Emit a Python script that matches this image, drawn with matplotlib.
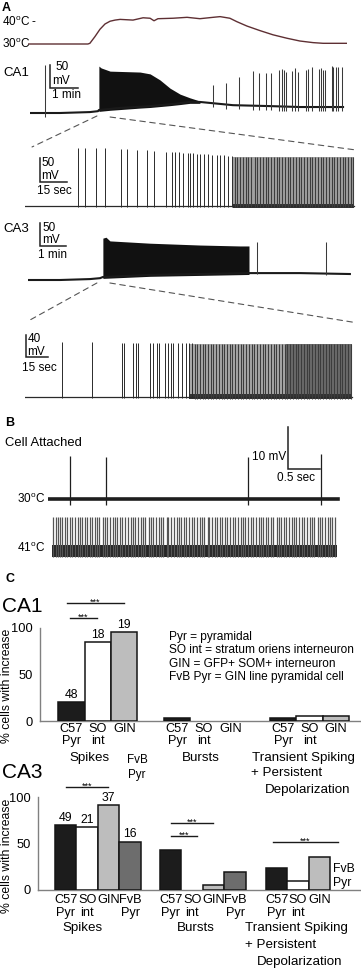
import numpy as np
import matplotlib
matplotlib.use('Agg')
import matplotlib.pyplot as plt
from matplotlib.patches import ConnectionPatch

plt.rcParams['font.family'] = ['Liberation Sans', 'DejaVu Sans']
plt.rcParams['mathtext.fontset'] = 'custom'
plt.rcParams['mathtext.rm'] = 'Liberation Sans'

W, H = 361, 969
DEG = '$^\\mathrm{o}$'

# ---- panel A: bath temperature (min, degC)
TEMP_T = [0.00, 2.14, 2.21, 2.39, 2.57, 2.75, 2.93, 3.11, 3.29, 3.75, 4.11, 4.36, 4.50, 4.64, 5.18,
          5.68, 6.14, 6.61, 6.86, 7.21, 7.46, 7.82, 8.29, 8.75, 9.25, 9.71, 10.18, 10.54, 11.39]
TEMP_C = [30.0, 30.0, 30.3, 33.2, 36.4, 38.7, 39.9, 40.4, 40.7, 40.4, 41.4, 41.2, 40.1, 41.0, 41.2,
          41.6, 41.0, 41.6, 41.9, 41.2, 39.7, 37.8, 35.8, 34.0, 32.5, 31.3, 30.6, 30.3, 30.3]

# ---- CA1 whole-cell trace (min, mV relative to rest)
CA1_BASE_T = [0, 1.07, 2.14, 2.43, 2.46, 3.21, 4.29, 5.18, 5.71, 6.07, 7.25, 8.57, 9.64, 11.18]
CA1_BASE_V = [0, 0, 2, 4, 6.5, 11, 15, 20, 24, 24, 17, 15, 13, 13]
CA1_BLOCK_T = [2.46, 2.54, 2.86, 3.93, 4.29, 4.64, 5.0, 5.36, 5.71, 6.07]
CA1_BLOCK_TOP = [102, 98, 91, 89, 85, 72, 54, 41, 33, 26]
CA1_SPIKE_T = [0.54, 6.54, 7.0, 7.46, 7.96, 8.18, 8.43, 8.61, 8.89, 9.0, 9.07, 9.14, 9.36, 9.46,
               9.57, 9.86, 9.93, 10.07, 10.32, 10.39, 10.46, 10.54, 10.79, 10.82, 10.93, 11.0, 11.14]
CA1_SPIKE_V = [104, 61, 65, 78, 91, 87, 87, 87, 93, 96, 93, 89, 91, 98,
               89, 93, 96, 100, 96, 98, 93, 93, 102, 100, 100, 100, 100]

# CA1 expanded (sec, mV)
CA1X_SPARSE_T = [29.4, 33.3, 39.4, 44.4, 53.3, 56.7, 62.2, 67.8, 71.7, 78.3, 81.7, 83.3, 85.6, 87.8,
                 90.6, 91.7, 93.3, 95.6, 97.2, 99.4, 101.7, 103.9, 106.7, 108.3, 110.6, 112.8, 115.0]
CA1X_SPARSE_V = [121, 121, 121, 120, 119, 118, 117, 116, 114, 113, 113, 112, 112, 111,
                 111, 110, 110, 109, 109, 108, 108, 107, 107, 106, 106, 105, 105]
CA1X_DENSE_T = [116.7, 117.8, 119.4, 121.1, 122.8, 123.9, 125.6, 127.8, 128.9, 130.6, 132.2, 133.9,
                135.0, 136.7, 138.3, 140.0, 141.1, 142.8, 144.4, 146.1, 147.2, 148.9, 150.6, 152.2,
                153.3, 155.0, 156.7, 158.3, 159.4, 161.1, 162.8, 164.4, 165.6, 167.2, 168.9, 170.6,
                171.7, 173.3, 175.0, 176.7, 177.8, 179.4, 181.1, 182.2]
CA1X_DENSE_PEAK = 102
CA1X_END = 183

# ---- CA3 whole-cell trace (min, mV)
CA3_BASE_T = [0, 1.23, 2.38, 2.77, 2.88, 4.69, 6.62, 8.5, 10.46, 12.38]
CA3_BASE_V = [0, 0, 2, 4, 6.5, 11, 13, 15, 15, 13]
CA3_BLOCK_T = [2.88, 3.0, 3.15, 4.69, 6.62, 8.15, 8.5]
CA3_BLOCK_TOP = [91, 93, 85, 80, 76, 74, 74]
CA3_SPIKE_T = [8.81, 11.46]
CA3_SPIKE_V = [83, 83]

# CA3 expanded (sec, mV)
CA3X_SPARSE_T = [25.2, 45.7, 66.2, 67.5, 73.7, 75.7, 77.1, 85.3, 87.3, 90.0, 91.4, 95.5, 97.5,
                 99.6, 100.9, 104.3, 107.1, 109.8, 111.8, 113.9]
CA3X_SPARSE_V = [100, 100, 98, 98, 98, 98, 98, 98, 98, 98, 98, 98, 98, 98, 98, 98, 98, 98, 98, 98]
CA3X_DENSE_T = [115.9, 117.3, 119.4, 121.4, 122.8, 124.8, 126.9, 128.2, 130.3, 132.3, 134.4, 135.7,
                137.8, 139.8, 141.2, 143.2, 145.3, 147.3, 148.7, 150.7, 152.8, 154.8, 156.2, 158.2,
                160.3, 162.3, 163.7, 165.7, 167.8, 169.8, 171.2, 173.2, 175.3, 177.3, 178.7, 180.7,
                182.8, 184.8, 186.2, 188.2, 190.3, 192.3, 193.7, 195.7, 197.8, 199.8, 201.2, 203.2,
                205.3, 207.3, 208.7, 210.7, 212.8, 214.8, 216.2, 218.2, 220.3, 222.3]
CA3X_DENSE_PEAK = 97
CA3X_END = 223

# ---- panel B: cell attached (sec, mV)
B30_SPIKE_T = [0.34, 0.91, 3.125, 4.27]
B30_SPIKE_V = [10.2, 10.0, 10.0, 10.7]
B30_END = 4.53
B41_SPIKE_T = [0.02, 0.06, 0.09, 0.13, 0.16, 0.21, 0.24, 0.28, 0.31, 0.36, 0.40, 0.43, 0.47, 0.52,
               0.55, 0.59, 0.62, 0.67, 0.71, 0.74, 0.79, 0.83, 0.86, 0.90, 0.95, 0.98, 1.02, 1.07,
               1.10, 1.14, 1.18, 1.23, 1.26, 1.30, 1.34, 1.39, 1.42, 1.46, 1.51, 1.54, 1.58, 1.62,
               1.67, 1.70, 1.74, 1.79, 1.82, 1.86, 1.90, 1.95, 1.98, 2.02, 2.07, 2.10, 2.14, 2.19,
               2.22, 2.26, 2.31, 2.34, 2.38, 2.43, 2.46, 2.50, 2.55, 2.58, 2.62, 2.66, 2.71, 2.74,
               2.78, 2.83, 2.86, 2.90, 2.95, 2.98, 3.02, 3.06, 3.11, 3.14, 3.18, 3.23, 3.26, 3.30,
               3.35, 3.38, 3.42, 3.46, 3.51, 3.54, 3.58, 3.63, 3.66, 3.70, 3.75, 3.78, 3.82, 3.86,
               3.91, 3.94, 3.98, 4.03, 4.06, 4.10, 4.15, 4.18, 4.22, 4.26, 4.31, 4.34, 4.38, 4.42]
B41_PEAK = 8.0
B41_END = 4.45

# ---- panel C: % cells with increase
CA1_CELLS = ['C57 Pyr', 'SO int', 'GIN']
CA1_SPIKES = [20, 85, 96]
CA1_BURSTS = [3.5, 0, 0]
CA1_TRANS = [3.5, 5.5, 5.5]
CA1_N = [48, 18, 19]

CA3_CELLS = ['C57 Pyr', 'SO int', 'GIN', 'FvB Pyr']
CA3_SPIKES = [70, 68, 91, 52]
CA3_BURSTS = [43, 0, 5, 19]
CA3_TRANS = [24, 10, 35]
CA3_N = [49, 21, 37, 16]

COLORS = {'C57 Pyr': '#1c1c1c', 'SO int': 'white', 'GIN': '#bdbdbd', 'FvB Pyr': '#6d6d6d'}

fig = plt.figure(figsize=(W / 100, H / 100), dpi=100)


def T(x, y, s, size=8.5, ha='left', va='center', **kw):
    fig.text(x / W, 1 - y / H, s, fontsize=size, ha=ha, va=va, **kw)


def trace_ax(x0, x1, y0, y1, t_px, v_ref, y_ref, v_px):
    ax = fig.add_axes([x0 / W, 1 - y1 / H, (x1 - x0) / W, (y1 - y0) / H])
    ax.set_xlim(0, (x1 - x0) * t_px)
    ax.set_ylim(v_ref - (y1 - y_ref) * v_px, v_ref + (y_ref - y0) * v_px)
    ax.axis('off')
    return ax


def scalebar(ax, t, v, dt, dv):
    ax.plot([t, t, t + dt], [v + dv, v, v], color='#222', lw=1.1, clip_on=False,
            solid_joinstyle='miter')


def spikes(ax, ts, vs, base_t, base_v, under, color='#2a2a2a', lw=0.7):
    b = np.interp(ts, base_t, base_v)
    ax.vlines(ts, b - under, vs, color=color, lw=lw)


# ---------------- panel A ----------------
T(2, 8, 'A', size=9, weight='bold')
T(2, 22, '40' + DEG + 'C -', size=8.5)
T(2, 44, '30' + DEG + 'C', size=8.5)
ax_t = trace_ax(28, 347, 5, 50, 1 / 28, 30, 44, 1 / 2.3)
ax_t.plot(TEMP_T, TEMP_C, color='#5e2f33', lw=1.0)

T(3, 73, 'CA1', size=9.5)
ax1 = trace_ax(30, 345, 55, 120, 1 / 28, 0, 113, 50 / 23)
ax1.plot(CA1_BASE_T, CA1_BASE_V, color='#1a1a1a', lw=1.5)
ax1.fill_between(CA1_BLOCK_T, np.interp(CA1_BLOCK_T, CA1_BASE_T, CA1_BASE_V) - 3,
                 CA1_BLOCK_TOP, color='#111111', lw=0)
spikes(ax1, CA1_SPIKE_T, CA1_SPIKE_V, CA1_BASE_T, CA1_BASE_V, 9, color='#3a3a3a', lw=0.75)
scalebar(ax1, 0.714, 54.3, 1, 50)
T(55, 67, '50'); T(52, 81, 'mV'); T(52, 95, '1 min')

ax1x = trace_ax(25, 356, 140, 212, 15 / 27, 0, 206, 50 / 24)
ax1x.plot([0, CA1X_END], [0, 0], color='#2a2a2a', lw=0.9)
ax1x.fill_between([CA1X_DENSE_T[0] - 1, CA1X_END], -3, CA1X_DENSE_PEAK, color='#a0a0a0', lw=0)
ax1x.fill_between([CA1X_DENSE_T[0] - 1, CA1X_END], -4, 5, color='#333333', lw=0)
spikes(ax1x, CA1X_SPARSE_T, CA1X_SPARSE_V, [0, CA1X_END], [0, 0], 2)
spikes(ax1x, CA1X_DENSE_T, [CA1X_DENSE_PEAK] * len(CA1X_DENSE_T), [0, CA1X_END], [0, 0], 3,
       color='#3c3c3c', lw=0.8)
scalebar(ax1x, 8.3, 50, 15, 50)
T(41, 163, '50'); T(41, 176, 'mV'); T(37, 191, '15 sec')

T(3, 229, 'CA3', size=9.5)
ax3 = trace_ax(28, 352, 215, 287, 1 / 26, 0, 280, 50 / 23)
ax3.plot(CA3_BASE_T, CA3_BASE_V, color='#1a1a1a', lw=1.5)
ax3.fill_between(CA3_BLOCK_T, np.interp(CA3_BLOCK_T, CA3_BASE_T, CA3_BASE_V) - 3,
                 CA3_BLOCK_TOP, color='#111111', lw=0)
spikes(ax3, CA3_SPIKE_T, CA3_SPIKE_V, CA3_BASE_T, CA3_BASE_V, 3, color='#3a3a3a', lw=0.75)
scalebar(ax3, 0.46, 73.9, 1, 50)
T(42, 228, '50'); T(42, 240, 'mV'); T(38, 255, '1 min')

ax3x = trace_ax(25, 354, 330, 402, 15 / 22, 0, 397, 40 / 22)
ax3x.plot([0, CA3X_END], [0, 0], color='#2a2a2a', lw=0.9)
ax3x.fill_between([CA3X_SPARSE_T[-2], CA3X_END], -3, CA3X_DENSE_PEAK, color='#a8a8a8', lw=0)
ax3x.fill_between([178, CA3X_END], -3, CA3X_DENSE_PEAK, color='#6a6a6a', lw=0)
ax3x.fill_between([CA3X_SPARSE_T[-2], CA3X_END], -4, 5, color='#333333', lw=0)
spikes(ax3x, CA3X_SPARSE_T, CA3X_SPARSE_V, [0, CA3X_END], [0, 0], 2)
spikes(ax3x, CA3X_DENSE_T, [CA3X_DENSE_PEAK] * len(CA3X_DENSE_T), [0, CA3X_END], [0, 0], 3,
       color='#3c3c3c', lw=0.8)
scalebar(ax3x, 0.68, 72.7, 15, 40)
T(28, 339, '40'); T(27, 352, 'mV'); T(22, 368, '15 sec')

# zoom guides
dash = dict(color='#555555', lw=0.8, linestyle=(0, (5, 4)))
for (ta, va), (tb, vb) in [((2.39, -6.5), (3.9, 123)), ((2.86, -8.7), (183.3, 117))]:
    fig.add_artist(ConnectionPatch((ta, va), (tb, vb), coordsA=ax1.transData,
                                   coordsB=ax1x.transData, **dash))
for (ta, va), (tb, vb) in [((2.65, -6.5), (3.4, 140)), ((3.15, -6.5), (223.7, 136))]:
    fig.add_artist(ConnectionPatch((ta, va), (tb, vb), coordsA=ax3.transData,
                                   coordsB=ax3x.transData, **dash))

# ---------------- panel B ----------------
T(5, 423, 'B', size=9, weight='bold')
T(5, 443, 'Cell Attached', size=9.4)
axb = trace_ax(48, 340, 420, 510, 1 / 64, 0, 499, 10 / 42)
axb.plot([0, B30_END], [0, 0], color='#1e1e1e', lw=2.6)
spikes(axb, B30_SPIKE_T, B30_SPIKE_V, [0, B30_END], [0, 0], 1.5, color='#1e1e1e', lw=0.9)
scalebar(axb, 3.75, 7.14, 0.5, 10)
T(252, 457, '10 mV'); T(277, 478, '0.5 sec')
T(45, 499, '30' + DEG + 'C', ha='right')

axb2 = trace_ax(52, 340, 510, 562, 1 / 64, 0, 551, 10 / 42)
axb2.fill_between([0, B41_END], -1.4, 1.4, color='#262626', lw=0)
axb2.vlines(B41_SPIKE_T, -1.4, B41_PEAK, color='#555555', lw=0.9)
T(45, 548, '41' + DEG + 'C', ha='right')

# ---------------- panel C ----------------
T(5, 579, 'C', size=9, weight='bold')


def bar_panel(rect, xlim, group_x, groups, cells, n, sig, lab_y):
    ax = fig.add_axes([rect[0] / W, 1 - rect[3] / H, (rect[1] - rect[0]) / W, (rect[3] - rect[2]) / H])
    for gx, vals in zip(group_x, groups):
        for i, v in enumerate(vals):
            if v > 0:
                ax.bar(gx + i + 0.5, v, width=1, color=COLORS[cells[i]], edgecolor='#151515', lw=1.1,
                       zorder=3)
            top, bot = (cells[i].split(' ') + [''])[:2]
            ax.text(gx + i + 0.5, lab_y[0], top, ha='center', va='center', fontsize=9.2)
            if bot:
                ax.text(gx + i + 0.5, lab_y[1], bot, ha='center', va='center', fontsize=9.2)
    for i, k in enumerate(n):
        ax.text(group_x[0] + i + 0.5, groups[0][i] + 4.5, str(k), ha='center', va='baseline',
                fontsize=8.8)
    for x0, x1, y in sig:
        ax.plot([x0, x1], [y, y], color='#1a1a1a', lw=1.0, clip_on=False)
        ax.text((x0 + x1) / 2, y - 2, '***', ha='center', va='baseline', fontsize=6.5)
    ax.set_xlim(*xlim)
    ax.set_ylim(0, 100)
    for s in ['top', 'right']:
        ax.spines[s].set_visible(False)
    for s in ['left', 'bottom']:
        ax.spines[s].set_color('#808080')
        ax.spines[s].set_linewidth(1.0)
    ax.set_xticks([])
    ax.set_yticks([0, 50, 100])
    ax.tick_params(axis='y', length=0, pad=5, labelsize=9.3)
    return ax


T(2, 606, 'CA1', size=15)
axc1 = bar_panel((40, 360, 628, 721), (-0.68, 11.4), [0, 4, 8],
                 [CA1_SPIKES, CA1_BURSTS, CA1_TRANS], CA1_CELLS, CA1_N,
                 [(0.34, 2.49, 127), (0.45, 1.47, 111)], (-8.6, -22))
axc1.text(1.2, -39.8, 'Spikes', ha='center', va='center', fontsize=9.6)
axc1.text(5.4, -39.8, 'Bursts', ha='center', va='center', fontsize=9.6)
axc1.text(9.27, -39.8, 'Transient Spiking', ha='center', va='center', fontsize=9.6)
axc1.text(7.3, -56, '+ Persistent', ha='left', va='center', fontsize=9.6)
axc1.text(7.8, -74.2, 'Depolarization', ha='left', va='center', fontsize=9.6)
axc1.text(2.98, -42, 'FvB', ha='center', va='center', fontsize=8.4)
axc1.text(2.98, -58, 'Pyr', ha='center', va='center', fontsize=8.4)
T(7, 686, '% cells with increase', size=8.8, ha='center', rotation=90)

for k, s in enumerate(['Pyr = pyramidal', 'SO int = stratum oriens interneuron',
                       'GIN = GFP+ SOM+ interneuron', 'FvB Pyr = GIN line pyramidal cell']):
    T(169, 637 + 13.4 * k, s, size=8.6)

T(2, 773, 'CA3', size=15)
axc3 = bar_panel((38, 360, 797, 890), (-0.79, 14.19), [0, 4.88, 9.81],
                 [CA3_SPIKES, CA3_BURSTS, CA3_TRANS], CA3_CELLS, CA3_N,
                 [(0.51, 2.47, 111), (5.4, 7.35, 72), (5.4, 6.6, 58), (10.14, 13.16, 51.6)],
                 (-10.8, -24.7))
axc3.text(1.26, -40.9, 'Spikes', ha='center', va='center', fontsize=9.6)
axc3.text(6.53, -40.9, 'Bursts', ha='center', va='center', fontsize=9.6)
axc3.text(11.23, -40.9, 'Transient Spiking', ha='center', va='center', fontsize=9.6)
axc3.text(8.84, -59, '+ Persistent', ha='left', va='center', fontsize=9.6)
axc3.text(9.4, -77.4, 'Depolarization', ha='left', va='center', fontsize=9.6)
axc3.text(12.93, 22.6, 'FvB', ha='left', va='center', fontsize=8.8)
axc3.text(12.93, 7.5, 'Pyr', ha='left', va='center', fontsize=8.8)
T(7, 856, '% cells with increase', size=8.8, ha='center', rotation=90)

fig.savefig('out.png', dpi=100)
